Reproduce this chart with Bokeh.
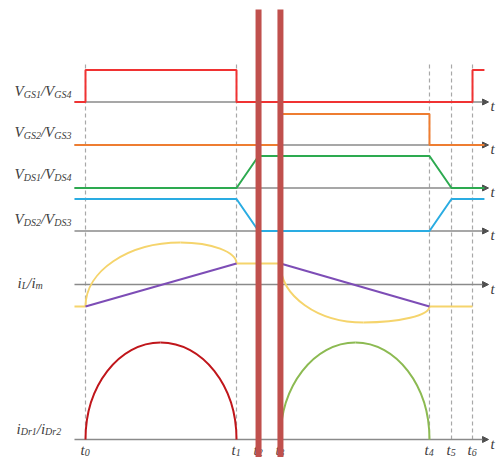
from bokeh.plotting import figure
from bokeh.models import Range1d, Arrow, NormalHead, ColumnDataSource
from bokeh.core.properties import value
from bokeh.embed import file_html
from bokeh.resources import INLINE

# ---------------------------------------------------------------- data
# switching instants t0 .. t6 (arbitrary time units)
t_sub = ["0", "1", "2", "3", "4", "5", "6"]
t_inst = [0.0, 10.0, 11.46, 12.91, 22.78, 24.24, 25.63]
t0, t1, t2, t3, t4, t5, t6 = t_inst

trace_start = -0.73
trace_end = 26.42
axis_tip = 26.69

# gate / drain-source waveforms as (time, logic level)
vgs14_t = [trace_start, t0, t0, t1, t1, t6, t6, trace_end]
vgs14_v = [0, 0, 1, 1, 0, 0, 1, 1]
vgs23_t = [trace_start, t3, t3, t4, t4, trace_end]
vgs23_v = [0, 0, 1, 1, 0, 0]
vds14_t = [trace_start, t1, t2, t4, t5, trace_end]
vds14_v = [0, 0, 1, 1, 0, 0]
vds23_t = [trace_start, t1, t2, t4, t5, trace_end]
vds23_v = [1, 1, 0, 0, 1, 1]

# magnetising current i_m (a.u.), linear ramps during t0-t1 and t3-t4
im_seg_t = [[t0, t1], [t3, t4]]
im_seg_v = [[-22, 21], [21, -22]]
# resonant current i_L: flat parts, and resonant half-periods (start, extremum, end)
iL_flat_t = [[trace_start, t0], [t1, t3], [t4, t6]]
iL_flat_v = [[-22, -22], [21, 21], [-22, -22]]
iL_arc_t = [(t0, 6.29, t1), (t3, 18.41, t4)]
iL_arc_v = [(-22, 42, 21), (21, -38, -22)]
# rectifier diode currents (start, peak, end)
iDr_t = [(t0, 4.97, t1), (t3, 17.88, t4)]
iDr_v = [(0, 97, 0), (0, 97, 0)]

# ---------------------------------------------------------------- layout
W, H = 497, 457
PX_PER_T = 15.1
X0_PX = 85
x_lo = -X0_PX / PX_PER_T
x_hi = (W - X0_PX) / PX_PER_T

def px_x(px):
    return x_lo + px / PX_PER_T

def px_y(px):
    return H - px

base = {
    "vgs14": px_y(101.5),
    "vgs23": px_y(144.5),
    "vds14": px_y(187.5),
    "vds23": px_y(230.5),
    "i": px_y(284),
    "idr": px_y(439),
}
logic_h = {"vgs14": 32, "vgs23": 31, "vds14": 32, "vds23": 32}

GRID_GRAY = "#8a8a8a"
TEXT = "#404040"
FONT = value("Liberation Serif")

p = figure(width=W, height=H, output_backend="svg", toolbar_location=None,
           x_range=Range1d(x_lo, x_hi), y_range=Range1d(0, H),
           min_border=0, background_fill_color="white")
p.axis.visible = False
p.grid.visible = False
p.outline_line_color = None

# dashed time markers
p.segment(x0=t_inst, y0=[base["idr"]] * 7, x1=t_inst, y1=[px_y(62)] * 7,
          line_color="#a8a8a8", line_width=1.2, line_dash="4 3", level="underlay")

# time axes with arrow heads (beneath the waveforms)
for key in ["vgs14", "vgs23", "vds14", "vds23", "i", "idr"]:
    p.add_layout(Arrow(end=NormalHead(size=6, fill_color="#505050", line_color="#505050"),
                       x_start=trace_start, y_start=base[key], x_end=axis_tip, y_end=base[key],
                       line_color=GRID_GRAY, line_width=1.5, level="underlay"))

def logic(ts, vs, key, color):
    ys = [base[key] + v * logic_h[key] for v in vs]
    p.line(ts, ys, line_color=color, line_width=2)

logic(vgs14_t, vgs14_v, "vgs14", "#F03232")
logic(vgs23_t, vgs23_v, "vgs23", "#EE7D31")
logic(vds14_t, vds14_v, "vds14", "#2DAA50")
logic(vds23_t, vds23_v, "vds23", "#2AACE2")

# resonant hump: two quarter-ellipse Bezier pieces (vertical tangent at the
# ends, horizontal tangent at the extremum)
K = 0.5523

def hump(ts, vs, y0, color):
    (ta, te, tb), (va, ve, vb) = ts, [y0 + v for v in vs]
    d = dict(
        x0=[ta, te], y0=[va, ve], x1=[te, tb], y1=[ve, vb],
        cx0=[ta, te + K * (tb - te)], cy0=[va + K * (ve - va), ve],
        cx1=[te - K * (te - ta), tb], cy1=[ve, vb + K * (ve - vb)],
    )
    p.bezier(x0="x0", y0="y0", x1="x1", y1="y1", cx0="cx0", cy0="cy0",
             cx1="cx1", cy1="cy1", source=ColumnDataSource(d),
             line_color=color, line_width=2)

# resonant current i_L
IL_COLOR = "#F5D46C"
for ts, vs in zip(iL_flat_t, iL_flat_v):
    p.line(ts, [base["i"] + v for v in vs], line_color=IL_COLOR, line_width=2)
for ts, vs in zip(iL_arc_t, iL_arc_v):
    hump(ts, vs, base["i"], IL_COLOR)

# magnetising current i_m
for ts, vs in zip(im_seg_t, im_seg_v):
    p.line(ts, [base["i"] + v for v in vs], line_color="#7D4DB6", line_width=2)

# rectifier currents
for ts, vs, col in zip(iDr_t, iDr_v, ["#C0161B", "#8CBA52"]):
    hump(ts, vs, base["idr"], col)

# ---------------------------------------------------------------- labels
ADV = {"V": 0.611, "G": 0.722, "S": 0.5, "D": 0.722, "r": 0.389, "i": 0.278,
       "L": 0.556, "m": 0.722, "t": 0.278, "/": 0.278}
MAIN, SUB = 15, 10

def width(s, size):
    return sum(ADV.get(c, 0.5) for c in s) * size

main_txt = {"x": [], "y": [], "text": []}
sub_txt = {"x": [], "y": [], "text": []}

def label(left_px, baseline_px, parts):
    xpx = left_px
    for s, is_sub in parts:
        size = SUB if is_sub else MAIN
        tgt = sub_txt if is_sub else main_txt
        tgt["x"].append(px_x(xpx))
        tgt["y"].append(px_y(baseline_px + (3 if is_sub else 0)))
        tgt["text"].append(s)
        xpx += width(s, size)

label(14, 90.5, [("V", 0), ("GS1", 1), ("/V", 0), ("GS4", 1)])
label(14, 131.5, [("V", 0), ("GS2", 1), ("/V", 0), ("GS3", 1)])
label(14, 173.5, [("V", 0), ("DS1", 1), ("/V", 0), ("DS4", 1)])
label(14, 218.5, [("V", 0), ("DS2", 1), ("/V", 0), ("DS3", 1)])
label(17, 282, [("i", 0), ("L", 1), ("/i", 0), ("m", 1)])
label(16, 428, [("i", 0), ("Dr1", 1), ("/i", 0), ("Dr2", 1)])

for t, s in zip(t_inst, t_sub):
    left = X0_PX + t * PX_PER_T - 5
    label(left, 449, [("t", 0), (s, 1)])

for key in ["vgs14", "vgs23", "vds14", "vds23", "i", "idr"]:
    main_txt["x"].append(px_x(490))
    main_txt["y"].append(base[key] - 4)
    main_txt["text"].append("t")

p.text(x="x", y="y", text="text", source=ColumnDataSource(main_txt),
       text_font=FONT, text_font_style="italic", text_font_size=f"{MAIN}px",
       text_color=TEXT, text_baseline="alphabetic", text_align="left")
p.text(x="x", y="y", text="text", source=ColumnDataSource(sub_txt),
       text_font=FONT, text_font_style="italic", text_font_size=f"{SUB}px",
       text_color=TEXT, text_baseline="alphabetic", text_align="left")

# highlight bars at t2 and t3
p.segment(x0=[t2, t3], y0=[0, 0], x1=[t2, t3], y1=[px_y(9), px_y(9)],
          line_color="#C0504D", line_width=6)

open("out.html", "w").write(file_html(p, INLINE))
